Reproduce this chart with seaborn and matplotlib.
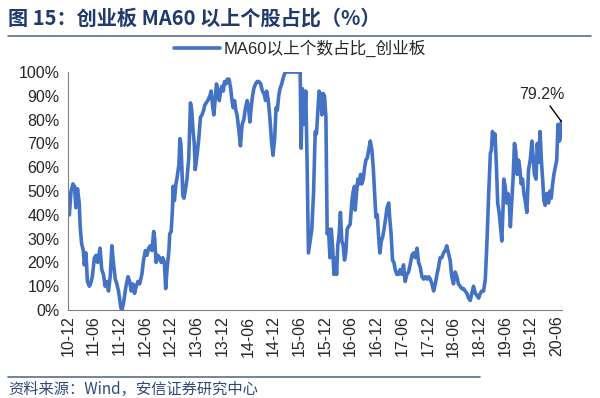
import matplotlib
matplotlib.use("Agg")
import matplotlib.pyplot as plt
import matplotlib.ticker as ticker
import pandas as pd
import seaborn as sns

# share of ChiNext stocks above MA60 (%)
dates = [
    "2010-12-01", "2010-12-12", "2010-12-24", "2011-01-06", "2011-01-18", "2011-01-27",
    "2011-02-08", "2011-02-20", "2011-02-27", "2011-03-09", "2011-03-21", "2011-03-28",
    "2011-04-09", "2011-04-19", "2011-05-03", "2011-05-12", "2011-05-24", "2011-06-08",
    "2011-06-20", "2011-07-01", "2011-07-18", "2011-07-30", "2011-08-11", "2011-08-23",
    "2011-09-04", "2011-09-16", "2011-09-28", "2011-10-10", "2011-10-21", "2011-11-03",
    "2011-11-14", "2011-11-26", "2011-12-13", "2011-12-20", "2012-01-01", "2012-01-18",
    "2012-02-02", "2012-02-13", "2012-02-24", "2012-03-07", "2012-03-19", "2012-03-31",
    "2012-04-12", "2012-04-24", "2012-05-10", "2012-05-22", "2012-06-04", "2012-06-15",
    "2012-06-27", "2012-07-09", "2012-07-21", "2012-08-02", "2012-08-09", "2012-08-19",
    "2012-08-31", "2012-09-12", "2012-09-24", "2012-10-05", "2012-10-17", "2012-10-26",
    "2012-11-06", "2012-11-18", "2012-11-24", "2012-12-04", "2012-12-13", "2012-12-18",
    "2012-12-27", "2013-01-07", "2013-01-16", "2013-01-28", "2013-02-04", "2013-02-11",
    "2013-02-18", "2013-02-25", "2013-03-05", "2013-03-14", "2013-03-26", "2013-04-08",
    "2013-04-20", "2013-04-29", "2013-05-08", "2013-05-17", "2013-05-24", "2013-06-06",
    "2013-06-18", "2013-06-30", "2013-07-11", "2013-07-23", "2013-07-30", "2013-08-09",
    "2013-08-21", "2013-09-05", "2013-09-14", "2013-09-24", "2013-10-03", "2013-10-15",
    "2013-10-22", "2013-11-01", "2013-11-11", "2013-11-20", "2013-11-29", "2013-12-09",
    "2013-12-18", "2013-12-28", "2014-01-07", "2014-01-19", "2014-01-31", "2014-02-09",
    "2014-02-18", "2014-02-27", "2014-03-08", "2014-03-17", "2014-03-29", "2014-04-10",
    "2014-04-22", "2014-05-04", "2014-05-16", "2014-05-28", "2014-06-07", "2014-06-16",
    "2014-06-25", "2014-07-05", "2014-07-14", "2014-07-26", "2014-08-07", "2014-08-19",
    "2014-09-01", "2014-09-13", "2014-09-24", "2014-10-06", "2014-10-13", "2014-10-25",
    "2014-11-06", "2014-11-18", "2014-11-27", "2014-12-09", "2014-12-19", "2014-12-28",
    "2015-01-07", "2015-01-16", "2015-01-28", "2015-02-10", "2015-02-22", "2015-04-15",
    "2015-06-08", "2015-06-15", "2015-06-24", "2015-07-06", "2015-07-18", "2015-07-27",
    "2015-08-06", "2015-08-18", "2015-08-30", "2015-09-11", "2015-09-23", "2015-10-02",
    "2015-10-12", "2015-10-21", "2015-11-02", "2015-11-09", "2015-11-18", "2015-11-28",
    "2015-12-08", "2015-12-17", "2015-12-26", "2016-01-06", "2016-01-15", "2016-01-24",
    "2016-02-03", "2016-02-12", "2016-02-22", "2016-03-01", "2016-03-11", "2016-03-20",
    "2016-03-30", "2016-04-09", "2016-04-18", "2016-04-27", "2016-05-07", "2016-05-16",
    "2016-05-28", "2016-06-10", "2016-06-19", "2016-06-28", "2016-07-03", "2016-07-12",
    "2016-07-22", "2016-08-01", "2016-08-10", "2016-08-19", "2016-08-29", "2016-09-08",
    "2016-09-17", "2016-09-27", "2016-10-06", "2016-10-18", "2016-10-30", "2016-11-09",
    "2016-11-18", "2016-11-27", "2016-12-07", "2016-12-16", "2016-12-25", "2017-01-05",
    "2017-01-15", "2017-01-24", "2017-02-03", "2017-02-14", "2017-02-26", "2017-03-06",
    "2017-03-15", "2017-03-25", "2017-04-04", "2017-04-13", "2017-04-25", "2017-05-06",
    "2017-05-18", "2017-05-30", "2017-06-11", "2017-06-23", "2017-07-05", "2017-07-17",
    "2017-07-28", "2017-08-10", "2017-08-21", "2017-09-03", "2017-09-15", "2017-09-26",
    "2017-10-08", "2017-10-20", "2017-11-01", "2017-11-13", "2017-11-27", "2017-12-06",
    "2017-12-18", "2017-12-30", "2018-01-11", "2018-01-23", "2018-02-04", "2018-02-15",
    "2018-02-26", "2018-03-10", "2018-03-22", "2018-04-03", "2018-04-14", "2018-04-26",
    "2018-05-08", "2018-05-20", "2018-06-01", "2018-06-13", "2018-06-25", "2018-07-06",
    "2018-07-18", "2018-07-30", "2018-08-11", "2018-08-23", "2018-09-04", "2018-09-16",
    "2018-09-28", "2018-10-09", "2018-10-21", "2018-11-03", "2018-11-15", "2018-11-27",
    "2018-12-08", "2018-12-20", "2019-01-01", "2019-01-13", "2019-01-25", "2019-02-06",
    "2019-02-18", "2019-02-25", "2019-03-05", "2019-03-14", "2019-03-23", "2019-04-02",
    "2019-04-11", "2019-04-21", "2019-05-01", "2019-05-10", "2019-05-19", "2019-05-24",
    "2019-06-03", "2019-06-12", "2019-06-22", "2019-07-01", "2019-07-10", "2019-07-20",
    "2019-07-29", "2019-08-08", "2019-08-17", "2019-08-27", "2019-09-06", "2019-09-16",
    "2019-09-25", "2019-10-04", "2019-10-14", "2019-10-23", "2019-11-04", "2019-11-16",
    "2019-11-28", "2019-12-10", "2019-12-19", "2019-12-28", "2020-01-08", "2020-01-17",
    "2020-01-27", "2020-02-06", "2020-02-15", "2020-02-24", "2020-03-04", "2020-03-13",
    "2020-03-25", "2020-04-06", "2020-04-16", "2020-04-25", "2020-05-05", "2020-05-14",
    "2020-05-24", "2020-06-03", "2020-06-08", "2020-06-12", "2020-06-22", "2020-07-01",
    "2020-07-06",
]
share = [
    49, 40, 50, 53, 52, 43,
    51, 45, 35, 28, 25, 19,
    24, 12, 10, 11, 14, 22,
    23, 20, 26, 17, 15, 10,
    12, 8, 14, 27, 20, 13,
    11, 8, 1, 0, 3, 10,
    14, 12, 8, 11, 7, 10,
    12, 11, 15, 21, 25, 23,
    26, 27, 25, 33, 30, 20,
    23, 22, 20, 22, 20, 9,
    18, 25, 32, 33, 42, 52,
    46, 53, 56, 61, 72, 70,
    60, 48, 47, 50, 55, 64,
    87, 84, 76, 70, 59, 65,
    72, 81, 82, 84, 86, 87,
    88, 90, 92, 86, 82, 90,
    95, 92, 88, 92, 94, 92,
    96, 95, 97, 97, 93, 88,
    85, 88, 84, 82, 76, 69,
    78, 80, 85, 88, 85, 79,
    85, 90, 93, 95, 96, 96,
    95, 92, 91, 88, 92, 88,
    80, 70, 65, 72, 85, 84,
    90, 93, 95, 98, 100, 100,
    100, 68, 93, 78, 92, 63,
    24, 29, 34, 49, 75, 74,
    84, 92, 90, 82, 91, 90,
    81, 32, 34, 22, 34, 27,
    15, 22, 15, 27, 32, 41,
    29, 27, 21, 24, 34, 35,
    36, 46, 50, 52, 42, 49,
    55, 53, 57, 53, 55, 60,
    63, 64, 67, 71, 67, 59,
    49, 39, 40, 31, 24, 29,
    31, 34, 38, 43, 45, 38,
    32, 21, 20, 17, 15, 15,
    17, 15, 19, 12, 15, 16,
    19, 23, 24, 22, 26, 20,
    18, 14, 13, 14, 13, 14,
    13, 11, 8, 11, 15, 18,
    22, 22, 24, 25, 27, 24,
    21, 14, 11, 16, 14, 11,
    10, 9, 9, 8, 7, 5,
    4, 7, 10, 7, 6, 5,
    7, 8, 8, 13, 29, 49,
    66, 67, 75, 70, 74, 60,
    45, 41, 35, 29, 43, 55,
    52, 45, 49, 46, 35, 46,
    55, 70, 67, 57, 63, 59,
    53, 55, 49, 46, 41, 59,
    63, 71, 64, 57, 55, 70,
    62, 75, 63, 55, 46, 44,
    49, 45, 50, 47, 53, 57,
    60, 63, 71, 78, 71, 73,
    79.2,
]
tick_labels = [
    "10-12", "11-06", "11-12", "12-06", "12-12", "13-06", "13-12",
    "14-06", "14-12", "15-06", "15-12", "16-06", "16-12", "17-06",
    "17-12", "18-06", "18-12", "19-06", "19-12", "20-06",
]
series_name = "MA60以上个数占比_创业板"
last_label = "79.2%"

df = pd.DataFrame({"date": pd.to_datetime(dates), "share": [v / 100 for v in share]})
tick_dates = pd.to_datetime(["20" + t for t in tick_labels], format="%Y-%m")

sns.set_style("white")
plt.rcParams["font.family"] = ["Liberation Sans", "Noto Sans CJK SC"]

fig = plt.figure(figsize=(6, 3.98), dpi=100)
ax = fig.add_axes([0.113, 0.221, 0.824, 0.598])

sns.lineplot(data=df, x="date", y="share", ax=ax, color="#4472C4",
             linewidth=2.6, label=series_name)

ax.set_ylim(0, 1)
ax.set_xlim(pd.Timestamp("2010-12-01"), pd.Timestamp("2020-07-12"))
ax.yaxis.set_major_locator(ticker.MultipleLocator(0.1))
ax.yaxis.set_major_formatter(ticker.FuncFormatter(lambda v, p: f"{v * 100:.0f}%"))
ax.set_xticks(tick_dates)
ax.set_xticklabels(tick_labels, rotation=90)
ax.set_xlabel("")
ax.set_ylabel("")
ax.tick_params(axis="x", direction="in", length=3, width=0.8, color="#808080",
               labelsize=11.5, pad=4)
ax.tick_params(axis="y", direction="out", length=3, width=0.8, color="#808080",
               labelsize=11.5, pad=3)
sns.despine(ax=ax)
for side in ["left", "bottom"]:
    ax.spines[side].set_color("#808080")
    ax.spines[side].set_linewidth(0.8)

ax.annotate(last_label, xy=(df["date"].iloc[-1], df["share"].iloc[-1]),
            xytext=(-20, 20), textcoords="offset pixels", ha="center", va="bottom",
            fontsize=11.5, arrowprops=dict(arrowstyle="-", color="black", lw=1,
                                           shrinkA=1, shrinkB=0))

ax.legend(loc="center", bbox_to_anchor=(0.5, 0.878), bbox_transform=fig.transFigure,
          frameon=False, fontsize=12, handlelength=2.8, handletextpad=0.2)

# title and source, with the rules of the report layout
fig.text(0.013, 0.955, "图 15：创业板 MA60 以上个股占比（%）", ha="left", va="center",
         fontsize=14.5, fontweight="bold", color="#1F3A6E",
         family=["Noto Sans CJK SC", "DejaVu Sans"])
fig.add_artist(plt.Line2D([0.013, 0.985], [0.91, 0.91], color="#5B6E8C", lw=1.2))
fig.add_artist(plt.Line2D([0.013, 0.8], [0.053, 0.053], color="#5B6E8C", lw=1.2))
fig.text(0.013, 0.022, "资料来源：Wind，安信证券研究中心", ha="left", va="center",
         fontsize=11, style="italic", color="#2E4A7A",
         family=["Noto Sans CJK SC", "DejaVu Sans"])

fig.savefig("out.png", dpi=100)
